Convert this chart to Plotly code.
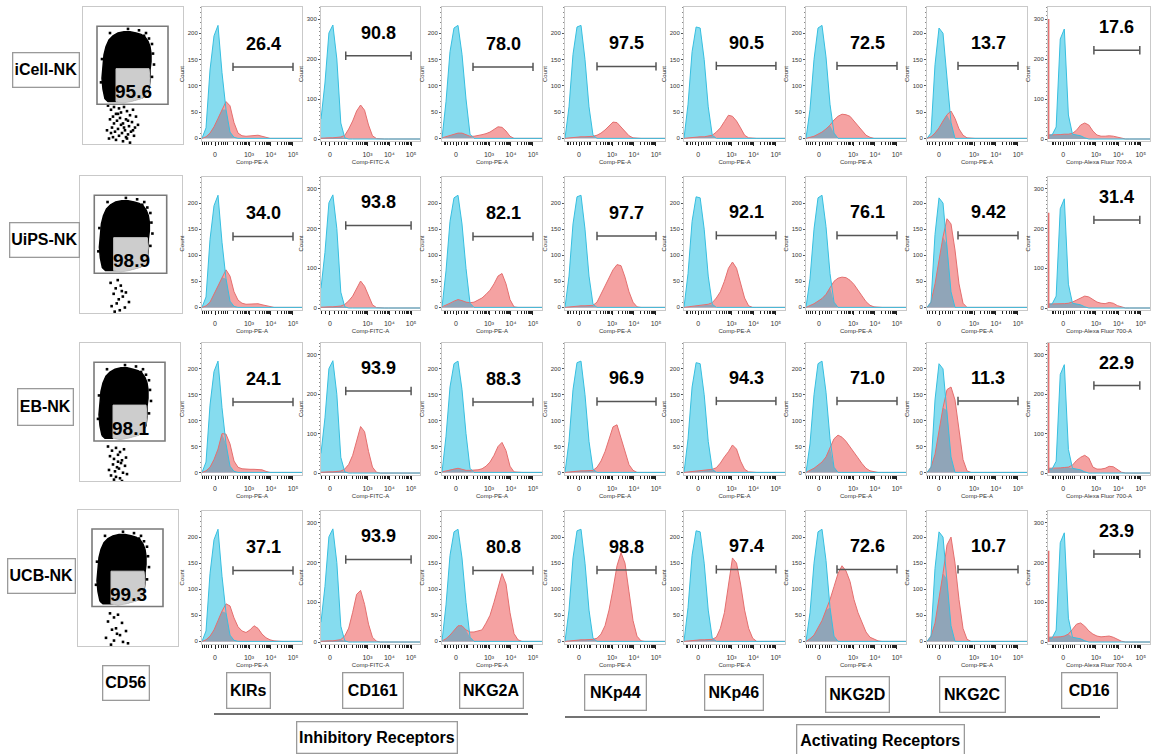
import numpy as np
import plotly.graph_objects as go

W, H = 1154, 754
FONT = "Liberation Sans, Arial, Helvetica, sans-serif"

# ---------------------------------------------------------------- labels
ROWS = ["iCell-NK", "UiPS-NK", "EB-NK", "UCB-NK"]
MARKERS = ["KIRs", "CD161", "NKG2A", "NKp44", "NKp46", "NKG2D", "NKG2C", "CD16"]
CHANNELS = ["Comp-PE-A", "Comp-FITC-A", "Comp-PE-A", "Comp-PE-A",
            "Comp-PE-A", "Comp-PE-A", "Comp-PE-A", "Comp-Alexa Fluor 700-A"]
GROUPS = ["Inhibitory Receptors", "Activating Receptors"]

# percent positive inside each gate
CD56_PCT = ["95.6", "98.9", "98.1", "99.3"]
PCT = [
    ["26.4", "90.8", "78.0", "97.5", "90.5", "72.5", "13.7", "17.6"],
    ["34.0", "93.8", "82.1", "97.7", "92.1", "76.1", "9.42", "31.4"],
    ["24.1", "93.9", "88.3", "96.9", "94.3", "71.0", "11.3", "22.9"],
    ["37.1", "93.9", "80.8", "98.8", "97.4", "72.6", "10.7", "23.9"],
]

# ---------------------------------------------------------------- histograms
# display-channel bin centres (0 = left edge of the plot, 1 = right edge)
BIN_POS = [0.00, 0.04, 0.08, 0.12, 0.16, 0.20, 0.24, 0.28, 0.32, 0.36, 0.40, 0.44, 0.48,
           0.52, 0.56, 0.60, 0.64, 0.68, 0.72, 0.76, 0.80, 0.84, 0.88, 0.92, 0.96, 1.00]

# isotype control counts per bin (bins past the end of a list are empty)
ISO_KIRS = [0, 20, 130, 195, 215, 125, 55, 12, 2, 0]
ISO_CD161 = [50, 140, 265, 285, 200, 40, 3, 0]
ISO_NKG2A = [0, 70, 165, 210, 215, 160, 75, 8, 0]
ISO_NKP44 = [0, 60, 160, 212, 215, 150, 60, 6, 0]
ISO_NKP46 = [0, 65, 165, 212, 210, 150, 60, 6, 0]
ISO_NKG2D = [0, 55, 150, 210, 215, 155, 65, 10, 0]
ISO_NKG2C = [0, 10, 140, 210, 200, 120, 30, 0]
ISO_CD16 = [10, 10, 30, 250, 275, 60, 12, 10, 8, 3, 0]

# stained sample counts per bin, one list per cell line (iCell, UiPS, EB, UCB)
KIRS_STAINED = [
    [0, 3, 10, 22, 38, 55, 70, 62, 30, 10, 5, 4, 5, 6, 6, 4, 2, 0],
    [0, 3, 10, 25, 42, 58, 72, 60, 30, 14, 8, 6, 6, 6, 7, 5, 3, 1, 0],
    [0, 3, 10, 25, 45, 75, 74, 55, 22, 10, 7, 6, 6, 6, 6, 5, 2, 0],
    [0, 3, 10, 22, 40, 58, 72, 68, 45, 28, 20, 17, 22, 30, 25, 14, 7, 3, 1, 0],
]
CD161_STAINED = [
    [2, 3, 3, 3, 4, 5, 9, 25, 45, 70, 85, 72, 35, 8, 1, 0],
    [2, 3, 3, 3, 4, 5, 9, 18, 30, 50, 68, 55, 30, 8, 1, 0],
    [2, 3, 3, 3, 4, 5, 10, 22, 45, 85, 118, 105, 55, 15, 2, 0],
    [2, 3, 3, 3, 4, 6, 15, 35, 75, 120, 130, 95, 45, 12, 2, 0],
]
NKG2A_STAINED = [
    [1, 3, 5, 8, 10, 10, 7, 4, 4, 5, 7, 9, 12, 17, 22, 21, 14, 4, 0],
    [1, 4, 8, 12, 15, 13, 10, 9, 10, 14, 18, 25, 33, 45, 60, 65, 45, 15, 1, 0],
    [1, 3, 5, 7, 8, 6, 4, 4, 4, 5, 7, 12, 20, 33, 50, 58, 42, 12, 1, 0],
    [1, 5, 12, 22, 30, 30, 22, 18, 18, 20, 22, 35, 50, 75, 105, 130, 110, 55, 15, 3, 0],
]
NKP44_STAINED = [
    [0, 1, 2, 3, 3, 3, 3, 4, 6, 10, 16, 24, 31, 30, 22, 14, 5, 1, 0],
    [0, 1, 2, 3, 3, 3, 3, 4, 10, 25, 42, 58, 72, 82, 80, 58, 30, 10, 1, 0],
    [0, 1, 2, 3, 3, 3, 3, 4, 10, 22, 40, 62, 88, 92, 65, 38, 15, 4, 0],
    [0, 1, 2, 3, 3, 3, 3, 4, 6, 14, 30, 60, 100, 145, 170, 150, 95, 40, 10, 1, 0],
]
NKP46_STAINED = [
    [0, 1, 2, 3, 3, 3, 4, 6, 12, 20, 32, 44, 42, 33, 20, 6, 1, 0],
    [0, 1, 2, 3, 4, 5, 6, 9, 18, 30, 50, 75, 87, 75, 48, 18, 3, 0],
    [0, 1, 2, 3, 4, 5, 5, 6, 9, 18, 30, 40, 53, 45, 22, 6, 1, 0],
    [0, 1, 2, 3, 3, 3, 3, 4, 8, 25, 55, 110, 160, 150, 110, 60, 25, 6, 0],
]
NKG2D_STAINED = [
    [0, 2, 4, 8, 12, 18, 25, 35, 42, 46, 45, 42, 33, 24, 14, 6, 2, 0],
    [0, 3, 7, 12, 17, 25, 38, 50, 56, 58, 57, 52, 44, 34, 22, 11, 4, 1, 0],
    [0, 4, 8, 14, 20, 30, 48, 65, 72, 68, 60, 50, 40, 28, 17, 8, 3, 1, 0],
    [0, 5, 12, 25, 40, 60, 80, 105, 130, 145, 135, 115, 80, 55, 35, 18, 8, 4, 1, 0],
]
NKG2C_STAINED = [
    [0, 3, 10, 20, 33, 45, 52, 38, 18, 6, 1, 0],
    [0, 10, 45, 90, 135, 170, 160, 110, 45, 8, 0],
    [0, 10, 35, 80, 125, 160, 165, 140, 85, 25, 3, 0],
    [0, 10, 35, 80, 130, 185, 200, 150, 80, 25, 4, 0],
]
CD16_STAINED = [
    [10, 10, 10, 11, 12, 12, 14, 22, 35, 40, 35, 20, 10, 7, 7, 8, 7, 5, 2, 0],
    [10, 10, 10, 10, 11, 12, 15, 20, 26, 30, 28, 22, 15, 12, 11, 14, 12, 6, 2, 0],
    [12, 12, 12, 13, 14, 15, 20, 32, 40, 45, 38, 15, 10, 10, 12, 17, 16, 9, 2, 0],
    [12, 12, 12, 13, 15, 20, 32, 45, 48, 40, 28, 20, 15, 13, 14, 15, 12, 6, 2, 0],
]
# events piled up in the lowest CD16 channel
CD16_PILEUP = [300, 240, 330, 230]

ISOTYPES = [ISO_KIRS, ISO_CD161, ISO_NKG2A, ISO_NKP44, ISO_NKP46, ISO_NKG2D, ISO_NKG2C, ISO_CD16]
STAINED = [KIRS_STAINED, CD161_STAINED, NKG2A_STAINED, NKP44_STAINED,
           NKP46_STAINED, NKG2D_STAINED, NKG2C_STAINED, CD16_STAINED]

# positive gate per marker (display-channel bounds) and count level of the gate bar
GATE_LO = [0.31, 0.25, 0.31, 0.32, 0.32, 0.31, 0.31, 0.45]
GATE_HI = [0.91, 0.91, 0.91, 0.91, 0.91, 0.91, 0.91, 0.90]
GATE_Y = [136, 208, 136, 137, 138, 138, 138, 222]
Y_TOP = [250, 330, 250, 250, 250, 250, 250, 330]

# ---------------------------------------------------------------- CD56 dot plots
CD56_GATE = [14, 85, 29, 86]          # x0, x1, y0, y1
# dense CD56+ population outline and its dimmer lower-right part
BLOB_X = [22, 20, 19, 20, 21, 23, 26, 30, 35, 41, 47, 53, 58, 62, 65, 67, 68, 68, 67, 67, 66,
          60, 50, 40, 30, 25]
BLOB_Y = [33, 40, 48, 57, 65, 71, 76, 79, 81, 82, 82, 81, 80, 78, 75, 71, 66, 60, 54, 47, 40,
          34, 32, 31, 31, 31]
DIM_X = [33, 66, 67, 66, 64, 58, 48, 40, 33]
DIM_Y = [55, 55, 48, 41, 36, 33, 31, 30, 31]
# scattered events just outside the dense population
EDGE_X = [19, 27, 45, 56, 63, 66, 69, 70, 71, 69, 18, 61]
EDGE_Y = [62, 81, 84, 83, 81, 77, 73, 66, 58, 49, 45, 79]
SPARSE_X = [
    [25, 28, 31, 33, 36, 38, 41, 44, 47, 50, 53, 27, 30, 34, 37, 40, 43, 46, 49, 52, 55, 24, 29,
     32, 35, 39, 42, 45, 48, 51, 26, 30, 33, 36, 40, 44, 47, 38, 41, 35, 31, 28, 45, 50, 43],
    [30, 35, 40, 33, 45, 38, 42, 36, 48, 31, 44, 39, 34, 41, 37],
    [28, 32, 36, 40, 44, 30, 34, 38, 42, 46, 33, 37, 41, 45, 29, 35, 39, 43, 31, 36, 40, 47, 38, 34, 42],
    [32, 36, 40, 30, 44, 38, 34, 48, 42, 28, 36, 45, 33, 50, 39],
]
SPARSE_Y = [
    [28, 25, 27, 22, 26, 23, 27, 24, 21, 25, 20, 18, 20, 17, 19, 15, 18, 13, 16, 12, 14, 10, 12,
     9, 11, 8, 10, 7, 9, 6, 4, 5, 3, 6, 2, 4, 1, 14, 12, 22, 15, 8, 17, 10, 5],
    [22, 18, 20, 14, 15, 10, 12, 7, 8, 5, 4, 2, 1, 16, 24],
    [25, 22, 24, 21, 23, 18, 16, 19, 15, 17, 12, 10, 13, 11, 8, 7, 9, 6, 4, 3, 2, 5, 14, 1, 0],
    [24, 21, 23, 18, 17, 13, 12, 11, 8, 6, 4, 3, 1, 2, 9],
]

# ---------------------------------------------------------------- page layout (px)
COL_X = [(202, 302), (321, 420), (442, 542), (565, 665), (684, 785), (806, 906), (927, 1027), (1048, 1150)]
ROW_Y = [(7, 141), (177, 310), (343, 475), (511, 644)]
DOT_X = [(83, 183), (80, 182), (80, 180), (78, 178)]
DOT_Y = [(7, 144), (176, 313), (343, 481), (510, 646)]
ZERO_POS = [0.13, 0.09, 0.14, 0.14, 0.14, 0.13, 0.12, 0.15]

ROW_BOX = [(45.5, 70.5, 65, 33), (44, 240, 68, 33), (45, 407, 54, 35), (41, 576, 66, 33)]
COL_BOX = [(125.5, 682.5, 45, 33), (248.5, 690, 42, 34), (373, 690, 59, 34), (491, 690, 62, 34),
           (615, 692, 60, 34), (734, 692, 57, 34), (857, 694, 62, 34), (972, 694, 64, 34),
           (1089, 690, 54, 34)]
GROUP_BOX = [(376.5, 737, 159, 30), (880, 740, 166, 30)]
GROUP_LINE = [(214, 528, 714), (565, 1100, 717)]

BLUE_FILL, BLUE_LINE = "#86dcef", "#37bfe0"
RED_FILL, RED_LINE = "#f5a2a2", "#e46f6f"
MIX_FILL = "#90a5b8"
FRAME = "#c9c9c9"

# logicle-like display scale: position of 10^3 and width of a decade
POS_1E3 = 0.47
DECADE = 0.22 / np.log(10)
MAJOR_V = [0, 1e3, 1e4, 1e5]
MAJOR_T = ["0", "10\u00b3", "10\u2074", "10\u2075"]
MINOR_V = ([-300, -200, -100, -80, -60, -40, -20, 20, 40, 60, 80]
           + list(range(100, 1000, 100)) + list(range(2000, 10000, 1000))
           + list(range(20000, 100000, 10000)))


def display_pos(values, zero):
    w = 1000.0 / np.sinh((POS_1E3 - zero) / DECADE)
    return zero + DECADE * np.arcsinh(np.asarray(values, float) / w)


def pad(counts):
    return list(counts) + [0] * (len(BIN_POS) - len(counts))


def names(n):
    s = "" if n == 1 else str(n)
    return "x" + s, "y" + s, "xaxis" + s, "yaxis" + s


def xdom(a, b):
    return [a / W, b / W]


def ydom(top, bottom):
    return [1 - bottom / H, 1 - top / H]


fig = go.Figure()
layout = {}
annotations = []
shapes = []
xtick_font = dict(family=FONT, size=7, color="#333")
ytick_font = dict(family=FONT, size=6, color="#333")

n = 0
for r in range(4):
    # ---- CD56 dot plot
    n += 1
    xn, yn, xk, yk = names(n)
    layout[xk] = dict(domain=xdom(*DOT_X[r]), anchor=yn, range=[0, 100], showticklabels=False,
                      ticks="", showgrid=False, zeroline=False, showline=True, mirror=True,
                      linecolor=FRAME, linewidth=1)
    layout[yk] = dict(domain=ydom(*DOT_Y[r]), anchor=xn, range=[0, 100], showticklabels=False,
                      ticks="", showgrid=False, zeroline=False, showline=True, mirror=True,
                      linecolor=FRAME, linewidth=1)
    fig.add_trace(go.Scatter(x=BLOB_X + BLOB_X[:1], y=BLOB_Y + BLOB_Y[:1], fill="toself",
                             fillcolor="black", mode="lines", line=dict(color="black", width=1.5),
                             xaxis=xn, yaxis=yn, hoverinfo="skip"))
    fig.add_trace(go.Scatter(x=DIM_X + DIM_X[:1], y=DIM_Y + DIM_Y[:1], fill="toself",
                             fillcolor="#cdcdcd", mode="lines", line=dict(color="#c4c4c4", width=1),
                             xaxis=xn, yaxis=yn, hoverinfo="skip"))
    fig.add_trace(go.Scatter(x=EDGE_X + SPARSE_X[r], y=EDGE_Y + SPARSE_Y[r], mode="markers",
                             marker=dict(symbol="square", size=2.6, color="black"),
                             xaxis=xn, yaxis=yn, hoverinfo="skip"))
    gx0, gx1, gy0, gy1 = CD56_GATE
    shapes.append(dict(type="rect", xref=xn, yref=yn, x0=gx0, x1=gx1, y0=gy0, y1=gy1,
                       line=dict(color="#7a7a7a", width=1.6)))
    annotations.append(dict(xref=xn, yref=yn, x=50, y=38, text=f"<b>{CD56_PCT[r]}</b>",
                            showarrow=False, font=dict(family=FONT, size=19, color="black")))

    # ---- marker histograms
    for c in range(8):
        n += 1
        xn, yn, xk, yk = names(n)
        zero = ZERO_POS[c]
        major = display_pos(MAJOR_V, zero)
        minor = [p for p in display_pos(MINOR_V, zero) if 0 < p < 1]
        ytop = Y_TOP[c]
        yticks = [0, 100, 200, 300] if ytop > 300 else [0, 50, 100, 150, 200]
        layout[xk] = dict(
            domain=xdom(*COL_X[c]), anchor=yn, range=[0, 1], showgrid=False, zeroline=False,
            showline=True, mirror=True, linecolor=FRAME, linewidth=1,
            tickmode="array", tickvals=list(major), ticktext=MAJOR_T,
            ticks="outside", ticklen=4, tickwidth=1, tickcolor="#222", tickfont=xtick_font,
            ticklabelstandoff=3,
            minor=dict(tickmode="array", tickvals=minor, ticks="outside", ticklen=2.5,
                       tickwidth=1, tickcolor="#222"),
            title=dict(text=CHANNELS[c], font=dict(family=FONT, size=6, color="#333"), standoff=2),
        )
        layout[yk] = dict(
            domain=ydom(*ROW_Y[r]), anchor=xn, range=[-5, ytop], showgrid=False, zeroline=False,
            showline=True, mirror=True, linecolor=FRAME, linewidth=1,
            tickmode="array", tickvals=yticks, ticks="outside", ticklen=2, tickwidth=1,
            tickcolor="#555", tickfont=ytick_font,
            minor=dict(dtick=10, ticks="outside", ticklen=1.2, tickwidth=1, tickcolor="#888"),
            title=dict(text="Count", font=dict(family=FONT, size=6, color="#333"), standoff=2),
        )
        iso = pad(ISOTYPES[c])
        stn = pad(STAINED[c][r])
        both = list(np.minimum(iso, stn))
        for ys, fc in ((iso, BLUE_FILL), (stn, RED_FILL), (both, MIX_FILL)):
            fig.add_trace(go.Scatter(x=BIN_POS, y=ys, fill="tozeroy", fillcolor=fc, mode="lines",
                                     line=dict(width=0, color=fc), xaxis=xn, yaxis=yn,
                                     hoverinfo="skip"))
        fig.add_trace(go.Scatter(x=BIN_POS, y=stn, mode="lines", line=dict(color=RED_LINE, width=1),
                                 xaxis=xn, yaxis=yn, hoverinfo="skip"))
        fig.add_trace(go.Scatter(x=BIN_POS, y=iso, mode="lines", line=dict(color=BLUE_LINE, width=1),
                                 xaxis=xn, yaxis=yn, hoverinfo="skip"))
        if c == 7:
            fig.add_trace(go.Scatter(x=[0.004, 0.004], y=[0, CD16_PILEUP[r]], mode="lines",
                                     line=dict(color=RED_LINE, width=2), xaxis=xn, yaxis=yn,
                                     hoverinfo="skip"))
        # positive gate bar and its percentage
        fig.add_trace(go.Scatter(x=[GATE_LO[c], GATE_HI[c]], y=[GATE_Y[c], GATE_Y[c]],
                                 mode="lines+markers", line=dict(color="#555", width=1.5),
                                 marker=dict(symbol="line-ns-open", size=6,
                                             line=dict(color="#555", width=1.5)),
                                 xaxis=xn, yaxis=yn, hoverinfo="skip"))
        annotations.append(dict(xref=xn, yref=yn, x=(GATE_LO[c] + GATE_HI[c]) / 2, y=GATE_Y[c],
                                yshift=23, text=f"<b>{PCT[r][c]}</b>", showarrow=False,
                                font=dict(family=FONT, size=18, color="black")))


def boxed(text, cx, cy, w, h, size=16):
    return dict(xref="paper", yref="paper", x=cx / W, y=1 - cy / H, xanchor="center",
                yanchor="middle", text=f"<b>{text}</b>", showarrow=False, width=w, height=h,
                align="center", valign="middle", bordercolor="#9a9a9a", borderwidth=1.3,
                borderpad=0, bgcolor="white", font=dict(family=FONT, size=size, color="black"))


for name, (cx, cy, w, h) in zip(ROWS, ROW_BOX):
    annotations.append(boxed(name, cx, cy, w, h))
for name, (cx, cy, w, h) in zip(["CD56"] + MARKERS, COL_BOX):
    annotations.append(boxed(name, cx, cy, w, h))
for name, (cx, cy, w, h) in zip(GROUPS, GROUP_BOX):
    annotations.append(boxed(name, cx, cy, w, h))
for x0, x1, y in GROUP_LINE:
    shapes.append(dict(type="line", xref="paper", yref="paper", x0=x0 / W, x1=x1 / W,
                       y0=1 - y / H, y1=1 - y / H, line=dict(color="#444", width=1.5)))

fig.update_layout(
    width=W, height=H, margin=dict(l=0, r=0, t=0, b=0), autosize=False,
    paper_bgcolor="white", plot_bgcolor="white", showlegend=False,
    font=dict(family=FONT), annotations=annotations, shapes=shapes, **layout,
)
fig.write_html("out.html", config={"displayModeBar": False})
